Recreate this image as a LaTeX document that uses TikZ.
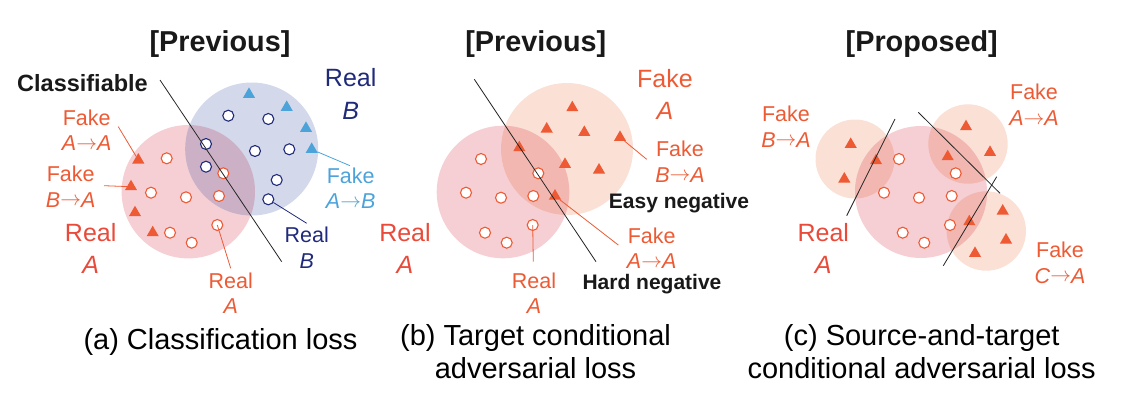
\documentclass[tikz,border=0pt]{standalone}
\usepackage{fontspec}
\setmainfont{Liberation Sans}
\usetikzlibrary{shapes.geometric}
\definecolor{pinkc}{RGB}{246,207,212}
\definecolor{bluec}{RGB}{211,216,234}
\definecolor{ovab}{RGB}{203,176,198}
\definecolor{peachc}{RGB}{251,224,214}
\definecolor{ovpp}{RGB}{242,183,176}
\definecolor{redc}{RGB}{237,90,52}
\definecolor{realred}{RGB}{233,74,58}
\definecolor{navyc}{RGB}{32,42,122}
\definecolor{lbluec}{RGB}{76,163,218}
\newcommand\fsmall{\fontsize{21.5}{25.5}\selectfont}
\newcommand\fbig{\fontsize{25}{32.5}\selectfont}
\newcommand\fhead{\fontsize{28.8}{34}\selectfont\bfseries}
\newcommand\fcap{\fontsize{29}{33.3}\selectfont}
\newcommand\fbold{\fontsize{21}{25}\selectfont\bfseries}
\newcommand\arr{\raisebox{0.06em}{$\rightarrow$}}
\tikzset{
  rp/.style={circle,draw=redc,fill=white,line width=1.1pt,minimum size=11pt,inner sep=0pt},
  bp/.style={rp,draw=navyc},
  ft/.style={regular polygon,regular polygon sides=3,fill=redc,minimum size=14pt,inner sep=0pt,yshift=-1.7pt},
  bt/.style={ft,fill=lbluec},
  sepline/.style={line width=0.8pt,draw=black!85},
  leadr/.style={line width=0.8pt,draw=redc},
  leadn/.style={line width=0.8pt,draw=navyc},
  leadb/.style={line width=0.8pt,draw=lbluec},
  sl/.style={font=\fsmall,text=redc,align=center,inner sep=0pt},
  bl/.style={font=\fbig,text=realred,align=center,inner sep=0pt},
  hd/.style={font=\fhead,text=black!90,anchor=base,inner sep=0pt},
  captxt/.style={font=\fcap,text=black,align=center,inner sep=0pt},
  bd/.style={font=\fbold,text=black!90,anchor=base,inner sep=0pt}
}
\begin{document}
\begin{tikzpicture}[x=1pt,y=-1pt]
\useasboundingbox (0,0) rectangle (1132,400);
% ================= panel (a)
\fill[pinkc] (188.3,191.7) circle (66.7);
\fill[bluec] (251.7,149) circle (66.5);
\begin{scope}
  \clip (188.3,191.7) circle (66.7);
  \fill[ovab] (251.7,149) circle (66.5);
\end{scope}
% blue real points
\node[bp] (ab1) at (228.3,115.7) {};
\node[bp] (ab2) at (268.3,119) {};
\node[bp] (ab3) at (255,151) {};
\node[bp] (ab4) at (289.3,149.3) {};
\node[bp] (ab5) at (206,144) {};
\node[bp] (ab6) at (206,166.7) {};
\node[bp] (ab7) at (276.7,180) {};
\node[bp] (ab8) at (268.3,199.3) {};
% blue fake
\node[bt] (abt1) at (249,92.7) {};
\node[bt] (abt2) at (286.7,105.7) {};
\node[bt] (abt3) at (306,126.7) {};
\node[bt] (abt4) at (311.7,147.7) {};
% red real
\node[rp] (ar1) at (166.7,158.3) {};
\node[rp] (ar2) at (223.3,173.3) {};
\node[rp] (ar3) at (151,192.7) {};
\node[rp] (ar4) at (186,197.3) {};
\node[rp] (ar5) at (219,196) {};
\node[rp] (ar6) at (217.3,225) {};
\node[rp] (ar7) at (170,232.7) {};
\node[rp] (ar8) at (191.7,242.7) {};
% red fake
\node[ft] (at1) at (138.3,158.3) {};
\node[ft] (at2) at (131,185) {};
\node[ft] (at3) at (135,211) {};
\node[ft] (at4) at (152.7,231) {};
% separating line
\coordinate (aL1) at (160,80);
\coordinate (aL2) at (281.7,261.7);
\draw[sepline] (aL1) -- (aL2);
% labels
\node[hd] (ahead) at (220,51) {[Previous]};
\node[bd,font=\fontsize{23.5}{28}\selectfont\bfseries] (aclass) at (82.5,91) {Classifiable};
\node[sl] (afaa) at (86.7,130) {Fake\\\textit{A}\arr\textit{A}};
\node[sl] (afba) at (70.7,186.7) {Fake\\\textit{B}\arr\textit{A}};
\node[bl] (arealA) at (90.7,248.3) {Real\\\textit{A}};
\node[sl] (arealAs) at (230.7,293.3) {Real\\\textit{A}};
\node[sl,text=navyc] (arealBs) at (306.7,247.5) {Real\\\textit{B}};
\node[bl,text=navyc] (arealB) at (350.7,94) {Real\\\textit{B}};
\node[sl,text=lbluec] (afab) at (350.7,188.3) {Fake\\\textit{A}\arr\textit{B}};
\node[captxt,anchor=base] (acap) at (220.5,349) {(a) Classification loss};
% leaders
\coordinate (aE1) at (118.3,126.7);
\coordinate (aE2) at (104,185.7);
\coordinate (aE3) at (230.7,268.3);
\coordinate (aE4) at (306.7,223.3);
\coordinate (aE5) at (350,165.7);
\draw[leadr] (aE1) -- (at1);
\draw[leadr] (aE2) -- (at2);
\draw[leadr] (ar6.center) -- (aE3);
\draw[leadn] (ab8) -- (aE4);
\draw[leadb] (abt4) -- (aE5);
% ================= panel (b)
\fill[pinkc] (503,192) circle (66.3);
\fill[peachc] (567,149) circle (66);
\begin{scope}
  \clip (503,192) circle (66.3);
  \fill[ovpp] (567,149) circle (66);
\end{scope}
\node[rp] (br1) at (481,159) {};
\node[rp] (br2) at (538.3,173.3) {};
\node[rp] (br3) at (466,192.7) {};
\node[rp] (br4) at (501,197.7) {};
\node[rp] (br5) at (533.3,196) {};
\node[rp] (br6) at (532.7,225) {};
\node[rp] (br7) at (485,232.7) {};
\node[rp] (br8) at (506.7,242.7) {};
\node[ft] (bt1) at (572.3,106) {};
\node[ft] (bt2) at (546.7,127.3) {};
\node[ft] (bt3) at (584.3,130.7) {};
\node[ft] (bt4) at (620,135.7) {};
\node[ft] (bt5) at (519.3,146) {};
\node[ft] (bt6) at (565,162.7) {};
\node[ft] (bt7) at (599,168.3) {};
\node[ft] (bt8) at (555,194.3) {};
\coordinate (bL1) at (474.3,79.3);
\coordinate (bL2) at (596,261.7);
\draw[sepline] (bL1) -- (bL2);
\node[hd] (bhead) at (535.8,51) {[Previous]};
\node[bl,text=redc] (bfakeA) at (665,94.2) {Fake\\\textit{A}};
\node[sl] (bfba) at (680,161.5) {Fake\\\textit{B}\arr\textit{A}};
\node[bd] (beasy) at (679,208.3) {Easy negative};
\node[sl] (bfaa) at (651.7,248.2) {Fake\\\textit{A}\arr\textit{A}};
\node[sl] (brealAs) at (534,293) {Real\\\textit{A}};
\node[bd] (bhard) at (652,289.3) {Hard negative};
\node[bl] (brealA) at (405,248.3) {Real\\\textit{A}};
\node[captxt,anchor=base] (bcap) at (535.5,378.3) {(b) Target conditional\\adversarial loss};
\coordinate (bE1) at (646.7,159.3);
\coordinate (bE2) at (618.3,245);
\coordinate (bE3) at (533.3,261.7);
\draw[leadr] (bt4) -- (bE1);
\draw[leadr] (bt8) -- (bE2);
\draw[leadr] (br6.center) -- (bE3);
% ================= panel (c)
\fill[peachc] (855,159) circle (39.5);
\fill[peachc] (968,144) circle (39.7);
\fill[peachc] (986.3,231) circle (39.7);
\fill[pinkc] (921,192) circle (66);
\begin{scope}
  \clip (921,192) circle (66);
  \fill[ovpp] (855,159) circle (39.5);
  \fill[ovpp] (968,144) circle (39.7);
  \fill[ovpp] (986.3,231) circle (39.7);
\end{scope}
\node[rp] (cr1) at (899,159) {};
\node[rp] (cr2) at (955.7,173.3) {};
\node[rp] (cr3) at (884,192.7) {};
\node[rp] (cr4) at (919,197.7) {};
\node[rp] (cr5) at (951.7,196) {};
\node[rp] (cr6) at (950,225) {};
\node[rp] (cr7) at (902.7,232.7) {};
\node[rp] (cr8) at (924.3,242.7) {};
\node[ft] (ct1) at (850.7,142.7) {};
\node[ft] (ct2) at (844.3,177.3) {};
\node[ft] (ct3) at (876,159) {};
\node[ft] (ct4) at (966,125) {};
\node[ft] (ct5) at (990,150.7) {};
\node[ft] (ct6) at (947.7,155) {};
\node[ft] (ct7) at (1002.7,209.3) {};
\node[ft] (ct8) at (1006,238.3) {};
\node[ft] (ct9) at (975,251.7) {};
\node[ft] (ct10) at (969.3,220) {};
\coordinate (cL1a) at (895,119);
\coordinate (cL1b) at (846.7,215.7);
\coordinate (cL2a) at (918.3,112.3);
\coordinate (cL2b) at (1000,193.3);
\coordinate (cL3a) at (996.7,176.7);
\coordinate (cL3b) at (943.3,265.7);
\draw[sepline] (cL1a) -- (cL1b);
\draw[sepline] (cL2a) -- (cL2b);
\draw[sepline] (cL3a) -- (cL3b);
\node[hd] (chead) at (921.7,51) {[Proposed]};
\node[sl] (cfba) at (786,126.5) {Fake\\\textit{B}\arr\textit{A}};
\node[sl] (cfaa) at (1034,104.8) {Fake\\\textit{A}\arr\textit{A}};
\node[sl] (cfca) at (1060,262.8) {Fake\\\textit{C}\arr\textit{A}};
\node[bl] (crealA) at (823.3,248.3) {Real\\\textit{A}};
\node[captxt,anchor=base] (ccap) at (921.7,378.3) {(c) Source-and-target\\conditional adversarial loss};
\end{tikzpicture}
\end{document}
